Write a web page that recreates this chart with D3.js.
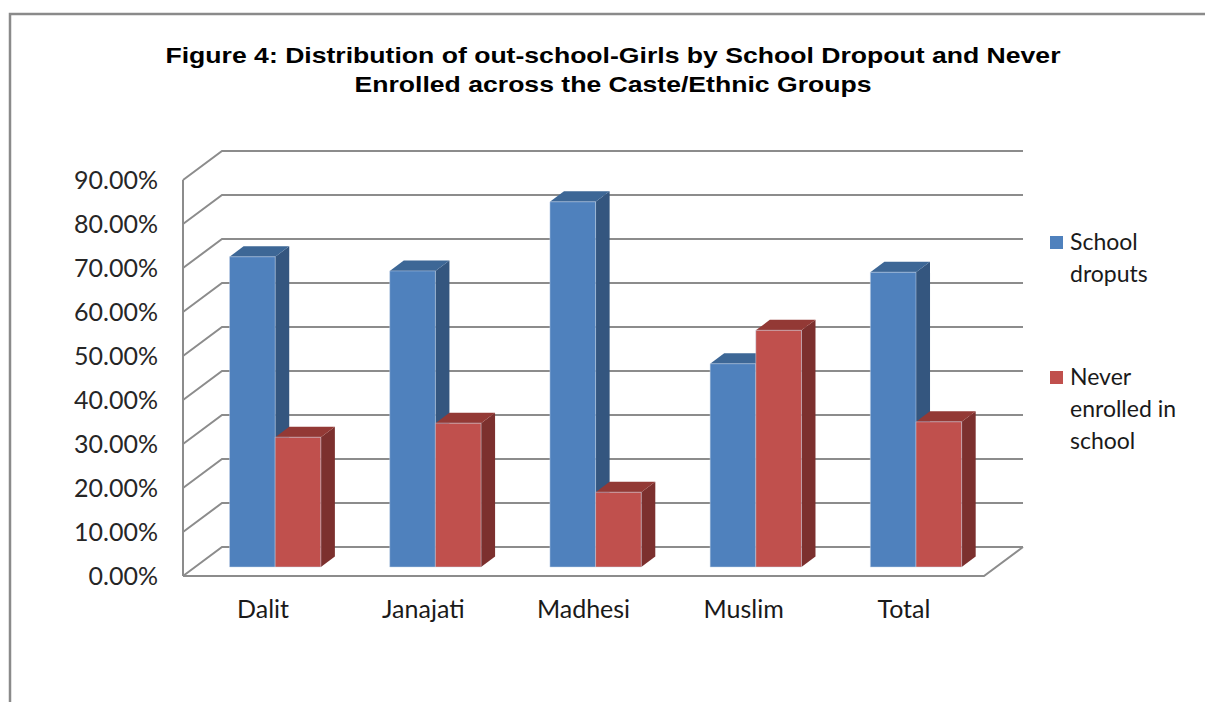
<!DOCTYPE html>
<html>
<head>
<meta charset="utf-8">
<script src="https://cdn.jsdelivr.net/npm/d3@7"></script>
<style>
  html, body { margin: 0; padding: 0; background: #fff; }
  svg { display: block; }
</style>
</head>
<body>
<svg id="chart" width="1205" height="702"></svg>
<script>
// Caste/ethnic groups and share of out-of-school girls in each group
const categories = ["Dalit", "Janajati", "Madhesi", "Muslim", "Total"];
const seriesNames = ["School droputs", "Never enrolled in school"];
const schoolDropouts = [0.705, 0.673, 0.830, 0.462, 0.670];
const neverEnrolled = [0.295, 0.327, 0.170, 0.538, 0.330];
const yTicks = [0, 0.1, 0.2, 0.3, 0.4, 0.5, 0.6, 0.7, 0.8, 0.9];
const legendLines = [["School", "droputs"], ["Never", "enrolled in", "school"]];
const titleLines = [
  "Figure 4: Distribution of out-school-Girls by School Dropout and Never",
  "Enrolled across the Caste/Ethnic Groups"
];

const svg = d3.select("#chart");

// Palette: front, side and top faces for each series
const faces = [
  { front: "#4F81BD", side: "#34567F", top: "#3D6796" },
  { front: "#C0504D", side: "#7C302E", top: "#933935" }
];

// Front plane of the plot and the perspective depth offset
const front = { left: 183, right: 984, bottom: 576, top: 180 };
const depth = { dx: 39, dy: -29 };
const proj = (x, y, z) => [x + z * depth.dx, y + z * depth.dy];

const x = d3.scaleBand().domain(categories)
  .range([front.left, front.right]).paddingInner(0.43).paddingOuter(0.215);
const xs = d3.scaleBand().domain(d3.range(seriesNames.length))
  .range([0, x.bandwidth()]).padding(0);
const y = d3.scaleLinear().domain([0, 0.9]).range([front.bottom, front.top]);

// Outer border of the chart area
svg.append("rect")
  .attr("x", 10).attr("y", 14).attr("width", 1210).attr("height", 700)
  .attr("fill", "none").attr("stroke", "#8a8a8a").attr("stroke-width", 2.5);

// Title
svg.append("g").selectAll("text").data(titleLines).join("text")
  .attr("x", 613).attr("y", (d, i) => 63 + i * 29)
  .attr("text-anchor", "middle")
  .attr("font-family", "'Liberation Sans', Arial, sans-serif")
  .attr("font-weight", "bold").attr("font-size", 22)
  .attr("fill", "#000")
  .attr("textLength", (d, i) => i === 0 ? 895 : 517)
  .attr("lengthAdjust", "spacingAndGlyphs")
  .text(d => d);

// Walls: gridlines on the back wall and on the left side wall
const grid = svg.append("g").attr("stroke", "#8c8c8c").attr("stroke-width", 2).attr("fill", "none");
const line = d3.line();
yTicks.forEach(t => {
  const yy = y(t);
  grid.append("path").attr("d", line([proj(front.left, yy, 0), proj(front.left, yy, 1), proj(front.right, yy, 1)]));
});
// left vertical axis
grid.append("path").attr("d", line([[front.left, y(0.9)], [front.left, y(0)]]));
// floor front edge and right edge
grid.append("path").attr("d", line([proj(front.left, y(0), 0), proj(front.right, y(0), 0), proj(front.right, y(0), 1)]));

// Y axis tick labels
svg.append("g").selectAll("text").data(yTicks).join("text")
  .attr("x", 158).attr("y", d => y(d))
  .attr("dy", "0.36em")
  .attr("text-anchor", "end")
  .attr("font-family", "Lato, 'Open Sans', sans-serif")
  .attr("font-size", 25).attr("fill", "#262626")
  .text(d => d3.format(".2%")(d));

// Category labels
svg.append("g").selectAll("text").data(categories).join("text")
  .attr("x", d => x(d) + x.bandwidth() / 2)
  .attr("y", 618)
  .attr("text-anchor", "middle")
  .attr("font-family", "Lato, 'Open Sans', sans-serif")
  .attr("font-size", 25).attr("fill", "#1a1a1a")
  .text(d => d);

// 3D bars
const z0 = 0.31, z1 = 0.67;
const bars = [];
categories.forEach((c, i) => {
  [schoolDropouts[i], neverEnrolled[i]].forEach((v, s) => {
    bars.push({ c, s, v });
  });
});
const poly = pts => "M" + pts.map(p => p.join(",")).join("L") + "Z";
const barG = svg.append("g");
bars.forEach(b => {
  const xl = x(b.c) + xs(b.s), xr = xl + xs.bandwidth();
  const yb = y(0), yt = y(b.v);
  const g = barG.append("g");
  // right side face
  g.append("path").attr("fill", faces[b.s].side)
    .attr("d", poly([proj(xr, yt, z0), proj(xr, yt, z1), proj(xr, yb, z1), proj(xr, yb, z0)]));
  // top face
  g.append("path").attr("fill", faces[b.s].top)
    .attr("d", poly([proj(xl, yt, z0), proj(xl, yt, z1), proj(xr, yt, z1), proj(xr, yt, z0)]));
  // front face
  g.append("path").attr("fill", faces[b.s].front)
    .attr("stroke", "#c8d6ea").attr("stroke-width", 0.8).attr("stroke-opacity", 0.6)
    .attr("d", poly([proj(xl, yt, z0), proj(xr, yt, z0), proj(xr, yb, z0), proj(xl, yb, z0)]));
});

// Legend
const legend = svg.append("g");
const legendY = [250, 385];
legendLines.forEach((lines, s) => {
  legend.append("rect")
    .attr("x", 1050).attr("y", legendY[s] - 14).attr("width", 13).attr("height", 13)
    .attr("fill", faces[s].front);
  legend.append("text")
    .attr("x", 1070).attr("y", legendY[s])
    .attr("font-family", "Lato, 'Open Sans', sans-serif")
    .attr("font-size", 23).attr("fill", "#1a1a1a")
    .selectAll("tspan").data(lines).join("tspan")
    .attr("x", 1070).attr("dy", (d, i) => i === 0 ? 0 : 32)
    .text(d => d);
});
</script>
</body>
</html>
